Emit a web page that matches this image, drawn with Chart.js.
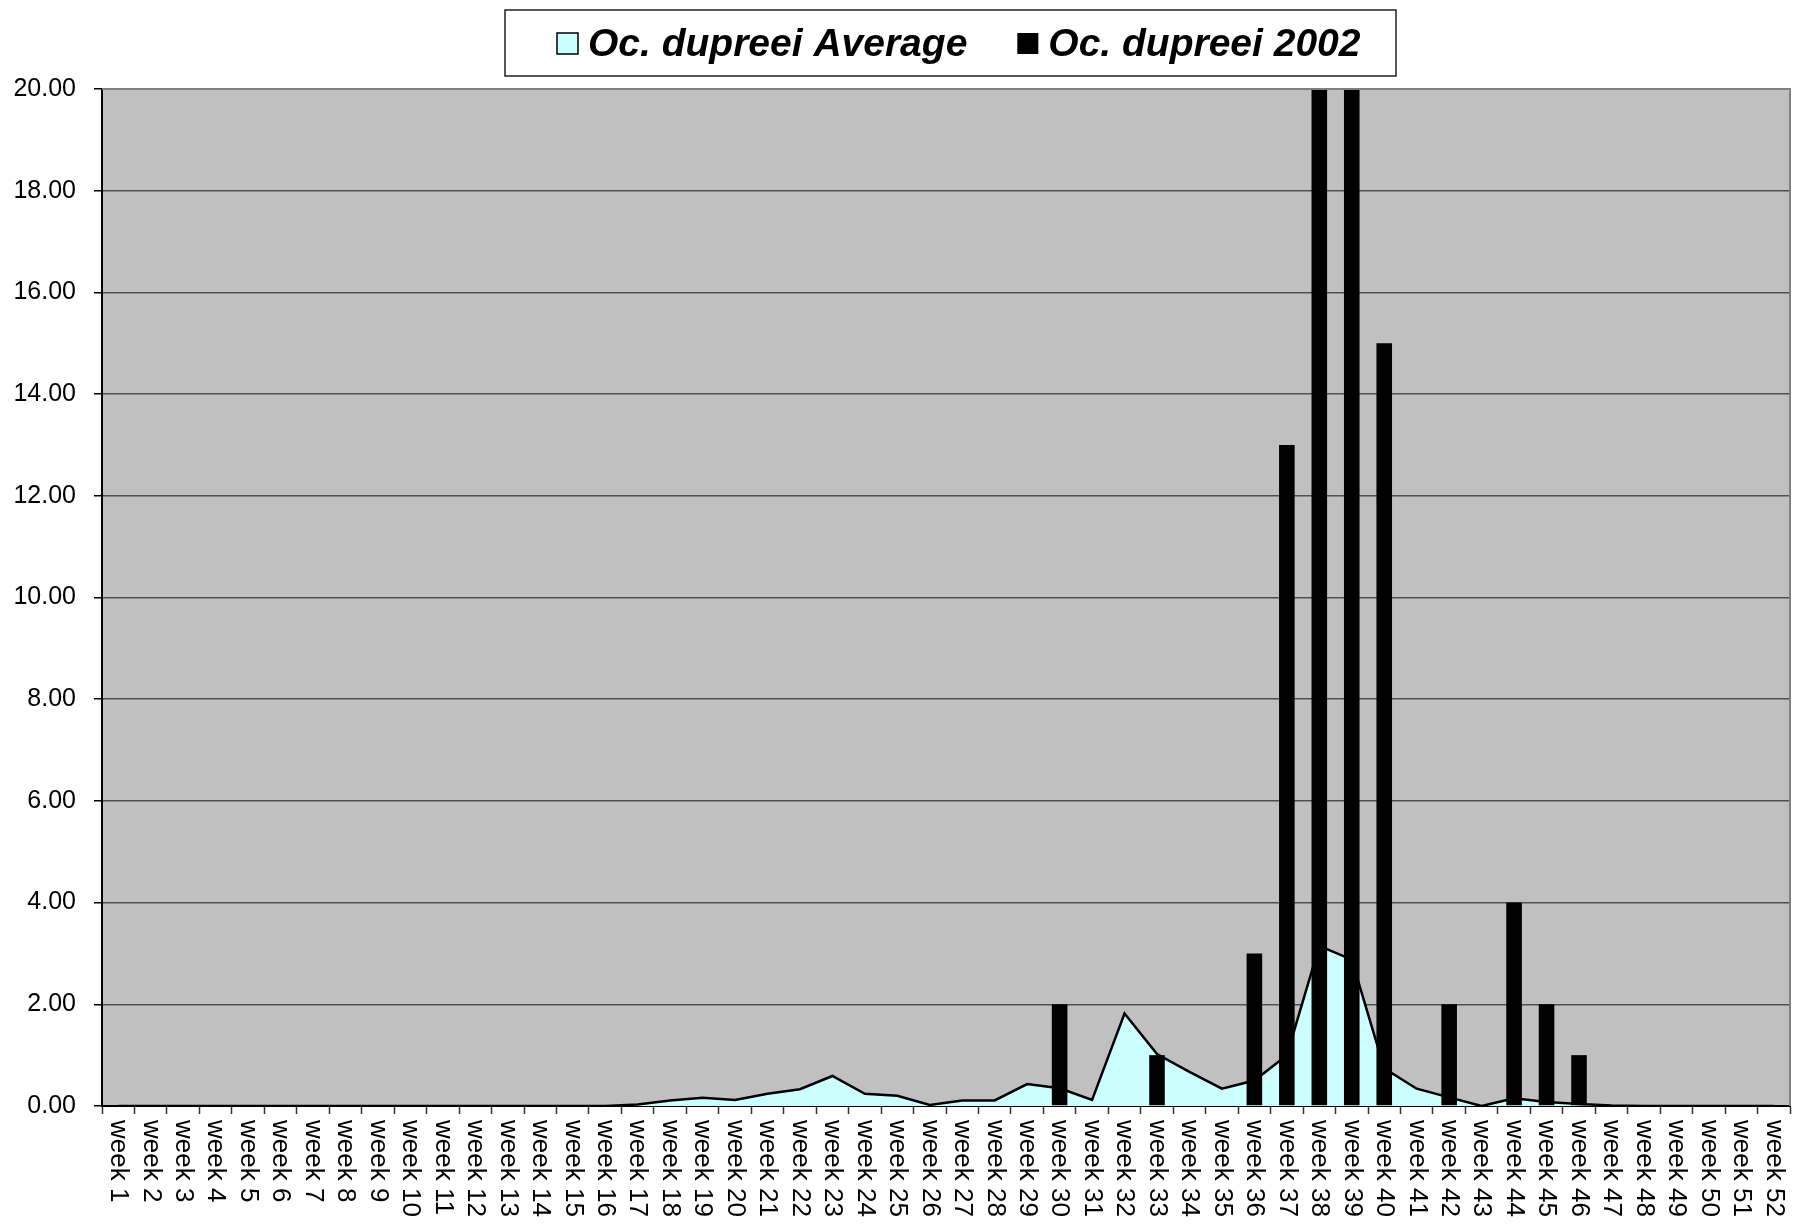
<!DOCTYPE html>
<html>
<head>
<meta charset="utf-8">
<script src="https://cdn.jsdelivr.net/npm/chart.js@4/dist/chart.umd.min.js"></script>
<style>
  html, body { margin: 0; padding: 0; background: #fff; }
  #wrap { width: 1796px; height: 1225px; position: relative; }
</style>
</head>
<body>
<div id="wrap"><canvas id="c" width="1796" height="1225"></canvas></div>
<script>
const weeks = ["week 1","week 2","week 3","week 4","week 5","week 6","week 7","week 8","week 9","week 10",
  "week 11","week 12","week 13","week 14","week 15","week 16","week 17","week 18","week 19","week 20",
  "week 21","week 22","week 23","week 24","week 25","week 26","week 27","week 28","week 29","week 30",
  "week 31","week 32","week 33","week 34","week 35","week 36","week 37","week 38","week 39","week 40",
  "week 41","week 42","week 43","week 44","week 45","week 46","week 47","week 48","week 49","week 50",
  "week 51","week 52"];

const averageValues = [0,0,0,0,0,0,0,0,0,0,
  0,0,0,0,0,0,0.03,0.11,0.16,0.12,
  0.24,0.33,0.59,0.24,0.20,0.02,0.11,0.11,0.43,0.35,
  0.12,1.82,1.02,0.67,0.34,0.50,1.00,3.15,2.88,0.74,
  0.34,0.17,0.00,0.15,0.08,0.04,0.01,0,0,0,
  0,0];

const values2002 = [0,0,0,0,0,0,0,0,0,0,
  0,0,0,0,0,0,0,0,0,0,
  0,0,0,0,0,0,0,0,0,2,
  0,0,1,0,0,3,13,24,22,15,
  0,2,0,4,2,1,0,0,0,0,
  0,0];

const yTicks = [0,2,4,6,8,10,12,14,16,18,20];

const seriesNames = ["Oc. dupreei Average", "Oc. dupreei 2002"];

const FONT = "'Liberation Sans', Arial, Helvetica, sans-serif";

const bgPlugin = {
  id: 'bgPlugin',
  beforeDraw(chart) {
    const {ctx, chartArea: a} = chart;
    ctx.save();
    ctx.fillStyle = '#C0C0C0';
    ctx.fillRect(a.left, a.top, a.right - a.left, a.bottom - a.top);
    ctx.restore();
  },
  afterDraw(chart) {
    const {ctx, chartArea: a} = chart;
    ctx.save();
    // top & right border
    ctx.strokeStyle = '#808080';
    ctx.lineWidth = 2;
    ctx.beginPath();
    ctx.moveTo(a.left, a.top);
    ctx.lineTo(a.right, a.top);
    ctx.lineTo(a.right, a.bottom);
    ctx.stroke();

    // x labels rotated clockwise
    const xs = chart.scales.x;
    ctx.fillStyle = '#000';
    ctx.font = "26px " + FONT;
    ctx.textAlign = 'left';
    ctx.textBaseline = 'middle';
    weeks.forEach((lab, i) => {
      const x = xs.getPixelForValue(i);
      ctx.save();
      ctx.translate(x, a.bottom + 14);
      ctx.rotate(Math.PI / 2);
      ctx.fillText(lab, 0, 0);
      ctx.restore();
    });

    // legend
    const bx = 505, by = 10, bw = 891, bh = 66;
    ctx.fillStyle = '#fff';
    ctx.fillRect(bx, by, bw, bh);
    ctx.strokeStyle = '#222';
    ctx.lineWidth = 1.5;
    ctx.strokeRect(bx, by, bw, bh);

    ctx.font = "italic bold 39px " + FONT;
    ctx.textAlign = 'left';
    ctx.textBaseline = 'alphabetic';
    const ds = chart.data.datasets;
    // item 1
    let x = 557;
    const sqY = 33, sqS = 21;
    ctx.fillStyle = ds[0].backgroundColor;
    ctx.fillRect(x, sqY, sqS, sqS);
    ctx.strokeStyle = '#000';
    ctx.lineWidth = 1.5;
    ctx.strokeRect(x, sqY, sqS, sqS);
    ctx.fillStyle = '#000';
    ctx.fillText(ds[0].label, x + sqS + 10, 56);
    const w1 = ctx.measureText(ds[0].label).width;
    x = x + sqS + 10 + w1 + 50;
    ctx.fillStyle = ds[1].backgroundColor;
    ctx.fillRect(x, sqY, sqS, sqS);
    ctx.fillStyle = '#000';
    ctx.fillText(ds[1].label, x + sqS + 10, 56);
    ctx.restore();
  }
};

new Chart(document.getElementById('c'), {
  data: {
    labels: weeks,
    datasets: [
      {
        type: 'line',
        label: seriesNames[0],
        data: averageValues,
        backgroundColor: '#CCFFFF',
        borderColor: '#000',
        borderWidth: 2.5,
        fill: 'origin',
        tension: 0,
        pointRadius: 0,
        order: 2
      },
      {
        type: 'bar',
        label: seriesNames[1],
        data: values2002,
        backgroundColor: '#000',
        borderWidth: 0,
        categoryPercentage: 1.0,
        barPercentage: 0.48,
        order: 1
      }
    ]
  },
  options: {
    responsive: false,
    animation: false,
    events: [],
    layout: { padding: { top: 89, right: 6, bottom: 0, left: 0 } },
    plugins: {
      legend: { display: false },
      tooltip: { enabled: false },
      title: { display: false }
    },
    scales: {
      x: {
        type: 'category',
        offset: true,
        grid: {
          offset: true,
          drawOnChartArea: false,
          drawTicks: true,
          tickLength: 8,
          tickColor: '#333',
          tickWidth: 1.5
        },
        border: { display: true, color: '#000', width: 2 },
        ticks: { display: false },
        afterFit(scale) { scale.height = 119; }
      },
      y: {
        min: 0,
        max: 20,
        afterBuildTicks(scale) { scale.ticks = yTicks.map(v => ({ value: v })); },
        ticks: {
          callback: v => Number(v).toFixed(2),
          color: '#000',
          font: { family: FONT, size: 25 },
          padding: 18
        },
        grid: {
          color: '#505050',
          lineWidth: 1.5,
          drawTicks: true,
          tickLength: 8,
          tickColor: '#000'
        },
        border: { display: true, color: '#000', width: 2 },
        afterFit(scale) { scale.width = 102; }
      }
    }
  },
  plugins: [bgPlugin]
});
</script>
</body>
</html>
